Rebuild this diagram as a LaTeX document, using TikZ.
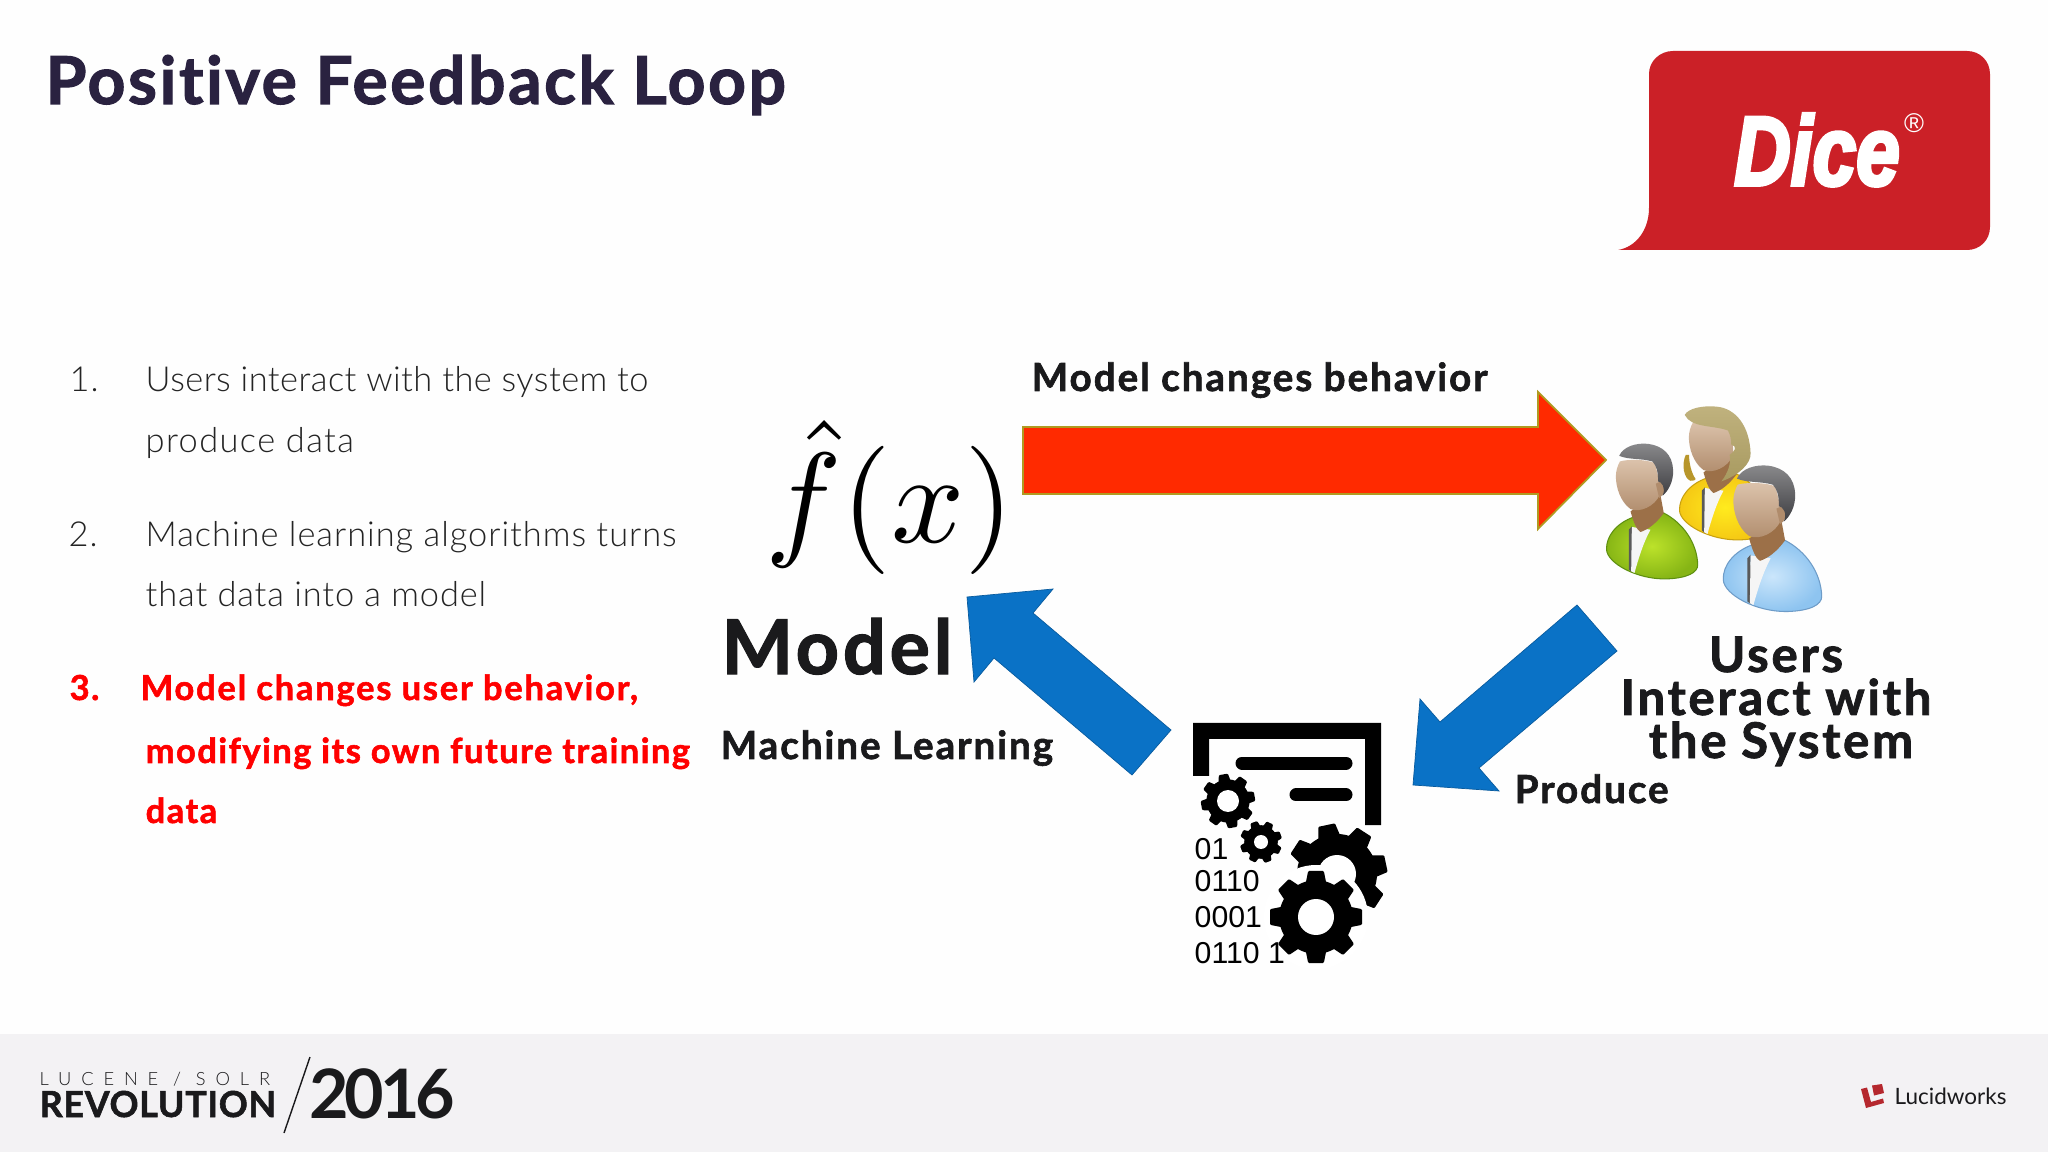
\documentclass[tikz,border=0pt]{standalone}
\usepackage{amsmath}
\usepackage{fontspec}
\setmainfont{Lato}
\newfontfamily\heavyfont{Lato}[Ligatures=CommonOff,BoldFeatures={FakeBold=1.6}]
\newfontfamily\lightfont{Lato Light}[Ligatures=CommonOff]
\newfontfamily\arialfont{Liberation Sans}
\newfontfamily\dicefont{Liberation Sans}[BoldItalicFeatures={FakeBold=4}]
\usetikzlibrary{positioning}
\definecolor{titleink}{HTML}{2A2240}
\definecolor{bodyink}{HTML}{242424}
\definecolor{labelink}{HTML}{1A1A1C}
\definecolor{dicered}{HTML}{CB2027}
\definecolor{lucidred}{HTML}{B5282E}
\definecolor{arrowred}{HTML}{FF2A00}
\definecolor{arrowedge}{HTML}{B09A20}
\definecolor{arrowblue}{HTML}{0A72C6}
\definecolor{footgrey}{HTML}{F3F2F4}
\definecolor{skintop}{HTML}{DCC3AC}
\definecolor{skinlow}{HTML}{B08C6C}
\definecolor{neckbrown}{HTML}{9C7048}
\definecolor{hairtop}{HTML}{8A8A8C}
\definecolor{hairlow}{HTML}{3E3E42}
\definecolor{blondetop}{HTML}{C0B27E}
\definecolor{blondelow}{HTML}{A89A60}
\definecolor{lockgold}{HTML}{B8962A}
\definecolor{greenin}{HTML}{BCE22A}
\definecolor{greenout}{HTML}{86B515}
\definecolor{greenedge}{HTML}{5E9010}
\definecolor{yellowin}{HTML}{FFEB1E}
\definecolor{yellowout}{HTML}{F5C814}
\definecolor{yellowedge}{HTML}{C8A010}
\definecolor{bluein}{HTML}{CBE6FB}
\definecolor{blueout}{HTML}{8EC4F0}
\definecolor{blueedge}{HTML}{6E9CC8}
\tikzset{
  txt/.style={anchor=base west,inner sep=0pt},
  listitem/.style={txt,font=\lightfont\fontsize{9.8}{10}\selectfont\addfontfeature{LetterSpace=#1},text=bodyink},
  listitem/.default=3,
  reditem/.style={txt,font=\heavyfont\bfseries\fontsize{9.8}{10}\selectfont\addfontfeature{LetterSpace=#1},text=red},
  reditem/.default=4.3,
  label/.style={inner sep=0pt,font=\heavyfont\bfseries\fontsize{11}{12}\selectfont\addfontfeature{LetterSpace=5},text=labelink},
  usertxt/.style={anchor=base,inner sep=0pt,font=\heavyfont\bfseries\fontsize{14}{14}\selectfont\addfontfeature{LetterSpace=5.5},text=labelink},
  bitstxt/.style={txt,font=\arialfont\fontsize{8.6}{9}\selectfont,text=black},
  bluearrow/.style={fill=arrowblue,draw=arrowblue!80!black,line width=0.2pt}
}
% gear: x, y, outer radius, hole radius, turn
\newcommand{\gearicon}[5]{
  \fill[black] (#1,#2) circle ({0.8*#3});
  \foreach \ang in {0,45,...,315}
    \fill[black,rounded corners=0.3pt,shift={(#1,#2)},rotate=\ang+#5]
      ({0.7*#3},{-0.23*#3}) -- ({#3},{-0.17*#3}) -- ({#3},{0.17*#3}) -- ({0.7*#3},{0.23*#3}) -- cycle;
  \fill[white] (#1,#2) circle (#4);
}
% person without hair: x, y, light, dark, edge, size
\newcommand{\personbody}[6]{
  \begin{scope}[shift={(#1,#2)},x=#6*0.003333cm,y=-#6*0.003333cm]
  \shade[inner color=#3,outer color=#4,draw=#5,line width=0.3pt]
    (222,412) .. controls (170,430) and (138,470) .. (140,510)
    .. controls (142,550) and (230,600) .. (320,598)
    .. controls (380,596) and (415,580) .. (414,555)
    .. controls (412,490) and (370,430) .. (312,400) -- cycle;
  \fill[gray!70!black] (207,450) -- (216,440) -- (218,578) -- (207,570) -- cycle;
  \fill[white!92!gray] (216,442) -- (272,450) .. controls (250,490) and (235,540) .. (224,580) -- (214,575) -- cycle;
  \fill[neckbrown] (212,395) -- (300,335) -- (312,400) .. controls (290,430) and (265,450) .. (242,457)
    .. controls (230,450) and (222,430) .. (212,395) -- cycle;
  \shade[top color=skintop,bottom color=skinlow]
    (180,245) .. controls (200,238) and (260,238) .. (285,250)
    .. controls (295,290) and (305,320) .. (300,345)
    .. controls (285,380) and (240,400) .. (212,388)
    .. controls (180,365) and (168,320) .. (168,290)
    .. controls (168,275) and (172,260) .. (180,245) -- cycle;
  \end{scope}
}
% short dark hair of the men: x, y, size
\newcommand{\manhair}[3]{
  \begin{scope}[shift={(#1,#2)},x=#3*0.003333cm,y=-#3*0.003333cm]
  \fill[skinlow] (288,312) .. controls (305,300) and (322,310) .. (318,325) .. controls (315,340) and (305,350) .. (298,355) -- cycle;
  \shade[top color=hairtop,bottom color=hairlow]
    (178,228) .. controls (190,200) and (230,188) .. (265,192)
    .. controls (310,198) and (338,225) .. (340,270)
    .. controls (342,305) and (325,335) .. (308,348)
    .. controls (320,325) and (305,305) .. (295,305)
    .. controls (295,275) and (290,258) .. (278,245)
    .. controls (245,235) and (205,240) .. (178,228) -- cycle;
  \end{scope}
}
\begin{document}
\begin{tikzpicture}[y=-1cm]
\useasboundingbox (0,0) rectangle (20.48,11.52);
\fill[white!99.5!black] (0,0) rectangle (20.48,11.52);
\fill[footgrey] (0,10.34) rectangle (20.48,11.52);

\node[txt,font=\heavyfont\bfseries\fontsize{18.8}{20}\selectfont\addfontfeature{LetterSpace=3.8},text=titleink] (title) at (0.45,1.04) {Positive Feedback Loop};

% dice logo
\fill[dicered] (16.49,0.74) .. controls (16.49,0.61) and (16.60,0.51) .. (16.73,0.51) -- (19.67,0.51)
  .. controls (19.80,0.51) and (19.90,0.61) .. (19.90,0.74) -- (19.90,2.27)
  .. controls (19.90,2.40) and (19.80,2.50) .. (19.67,2.50) -- (16.18,2.50)
  .. controls (16.36,2.47) and (16.49,2.30) .. (16.49,2.08) -- cycle;
\node[anchor=base,inner sep=0pt,text=white,xscale=0.8,font=\dicefont\bfseries\itshape\fontsize{27.9}{30}\selectfont] (dice) at (18.17,1.85) {Dice};
\node[anchor=center,inner sep=0pt,text=white,font=\arialfont\fontsize{7.7}{9}\selectfont] (regmark) at (19.14,1.23) {®};

% list
\node[listitem] (numa) at (0.69,3.92) {1.};
\node[listitem=1.3] (itema) at (1.45,3.92) {Users interact with the system to};
\node[listitem=4] (itemab) at (1.45,4.53) {produce data};
\node[listitem] (numb) at (0.68,5.46) {2.};
\node[listitem=2.8] (itemb) at (1.45,5.46) {Machine learning algorithms turns};
\node[listitem=2.5] (itembb) at (1.45,6.07) {that data into a model};
\node[reditem] (numc) at (0.69,7.00) {3.};
\node[reditem=5.2] (itemc) at (1.40,7.00) {Model changes user behavior,};
\node[reditem] (itemcb) at (1.45,7.63) {modifying its own future training};
\node[reditem] (itemcc) at (1.45,8.23) {data};

% model
\node[anchor=base,inner sep=0pt,scale=3.65] (fhat) at (8.90,5.43) {$\hat{f}(x)$};
\node[txt,font=\heavyfont\bfseries\fontsize{21.5}{24}\selectfont\addfontfeature{LetterSpace=5},text=labelink] (model) at (7.21,6.74) {Model};
\node[label,txt] (mlearn) at (7.20,7.59) {Machine Learning};
\node[label,txt] (mchange) at (10.31,3.91) {Model changes behavior};
\node[label,txt] (produce) at (15.14,8.03) {Produce};
\node[usertxt] (usersa) at (17.76,6.72) {Users};
\node[usertxt] (usersb) at (17.76,7.15) {Interact with};
\node[usertxt] (usersc) at (17.81,7.58) {the System};

% big arrows
\draw[fill=arrowred,draw=arrowedge,line width=0.5pt] (10.23,4.27) -- (15.38,4.27) -- (15.38,3.92) -- (16.06,4.60)
  -- (15.38,5.29) -- (15.38,4.94) -- (10.23,4.94) -- cycle;
\draw[bluearrow] (9.67,5.97) -- (10.53,5.89) -- (10.33,6.13) -- (11.71,7.30) -- (11.32,7.75) -- (9.94,6.58) -- (9.74,6.82) -- cycle;
\draw[bluearrow] (15.77,6.05) -- (16.17,6.51) -- (14.79,7.68) -- (14.99,7.91) -- (14.13,7.85) -- (14.20,6.99) -- (14.40,7.22) -- cycle;

% people
\personbody{16.33}{3.41}{yellowin}{yellowout}{yellowedge}{1}
\begin{scope}[shift={(15.6,3.8)},x=0.003333cm,y=-0.003333cm]
\fill[lockgold] (378,225) .. controls (365,255) and (372,295) .. (392,303) .. controls (400,305) and (408,300) .. (408,298) .. controls (395,280) and (388,250) .. (388,225) -- cycle;
\shade[top color=blondetop,bottom color=blondelow]
  (375,105) .. controls (385,85) and (430,76) .. (470,80)
  .. controls (530,85) and (570,140) .. (573,220)
  .. controls (575,250) and (540,285) .. (485,305)
  .. controls (505,280) and (515,250) .. (510,225)
  .. controls (525,215) and (535,200) .. (515,195)
  .. controls (515,180) and (512,165) .. (505,152)
  .. controls (460,135) and (395,145) .. (375,105) -- cycle;
\end{scope}
\personbody{15.6}{3.8}{greenin}{greenout}{greenedge}{1}
\manhair{15.6}{3.8}{1}
\personbody{16.73}{3.967}{bluein}{blueout}{blueedge}{1.08}
\manhair{16.73}{3.967}{1.08}

% training icon
\fill[black] (11.93,7.23) -- (13.81,7.23) -- (13.81,8.25) -- (13.65,8.25) -- (13.65,7.39) -- (12.09,7.39) -- (12.09,7.76) -- (11.93,7.76) -- cycle;
\draw[line width=1.3mm,line cap=round] (12.42,7.63) -- (13.46,7.63);
\draw[line width=1.3mm,line cap=round] (12.96,7.95) -- (13.46,7.95);
\gearicon{12.28}{8.01}{0.27}{0.11}{10}
\gearicon{12.61}{8.42}{0.21}{0.07}{20}
\gearicon{13.37}{8.74}{0.50}{0.19}{12}
\fill[white] (13.16,9.17) circle (0.52);
\gearicon{13.16}{9.17}{0.46}{0.18}{0}
\node[bitstxt] (bitsa) at (11.94,8.59) {01};
\node[bitstxt] (bitsb) at (11.94,8.91) {0110};
\node[bitstxt] (bitsc) at (11.94,9.27) {0001};
\node[bitstxt] (bitsd) at (11.94,9.63) {0110 1};

% footer
\node[txt,font=\lightfont\fontsize{5.2}{6}\selectfont\addfontfeature{LetterSpace=54},text=labelink] (lucene) at (0.39,10.85) {LUCENE / SOLR};
\node[txt,font=\heavyfont\bfseries\fontsize{10.2}{12}\selectfont\addfontfeature{LetterSpace=2},text=labelink] (revol) at (0.39,11.17) {REVOLUTION};
\coordinate (slashtop) at (3.10,10.57);
\coordinate (slashbot) at (2.84,11.33);
\draw[labelink,line width=0.4pt] (slashtop) -- (slashbot);
\node[txt,font=\bfseries\fontsize{19.4}{22}\selectfont\addfontfeature{LetterSpace=-6.5},text=labelink] (year) at (3.09,11.18) {2016};
\fill[lucidred] (18.61,10.89) -- (18.67,10.875) -- (18.71,11.02) -- (18.83,10.985) -- (18.84,11.03) -- (18.66,11.08) -- cycle;
\fill[lucidred] (18.72,10.855) -- (18.82,10.84) -- (18.84,10.93) -- (18.74,10.955) -- cycle;
\node[txt,font=\fontsize{6.4}{8}\selectfont,text=labelink] (lucid) at (18.94,11.04) {Lucidworks};
\end{tikzpicture}
\end{document}
